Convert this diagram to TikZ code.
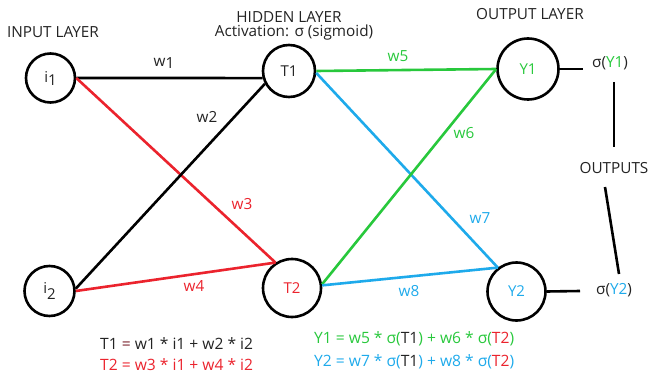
\documentclass[tikz,border=0pt]{standalone}
\usepackage{fontspec}
\setmainfont{Open Sans}
\definecolor{ngreen}{RGB}{40,200,60}
\definecolor{nred}{RGB}{235,35,45}
\definecolor{nblue}{RGB}{30,170,235}
\definecolor{ntext}{RGB}{35,35,35}
\definecolor{nmaroon}{RGB}{120,30,40}
\begin{document}
\begin{tikzpicture}[x=1pt,y=-1pt,
  neuron/.style={circle, draw=black, line width=2.6pt, inner sep=0pt, text=ntext, font=\fontsize{15}{17}\selectfont},
  conn/.style={line width=2.6pt},
  lbl/.style={inner sep=0pt, text=ntext, font=\fontsize{15.3}{17}\selectfont},
  eq/.style={inner sep=0pt, anchor=west, font=\fontsize{15.6}{17}\selectfont}]
\useasboundingbox (0,0) rectangle (650,374);
% neurons
\node[neuron, minimum size=49pt] (i1) at (50.5,78) {i\raisebox{-3pt}{1}};
\node[neuron, minimum size=50pt] (i2) at (49.5,291) {i\raisebox{-6pt}{2}};
\node[neuron, minimum size=52pt] (T1) at (289,71) {T1};
\node[neuron, minimum size=58pt, text=nred] (T2) at (292,288) {T2};
\node[neuron, minimum size=61pt, text=ngreen] (Y1) at (528,69) {Y1};
\node[neuron, minimum size=58pt, text=nblue] (Y2) at (516.5,291.5) {Y2};
% titles
\node[lbl] (tin) at (53,32) {INPUT LAYER};
\node[lbl] (thid) at (289,17) {HIDDEN LAYER};
\node[lbl] (tact) at (294,33) {Activation: σ (sigmoid)};
\node[lbl] (tout) at (530,14) {OUTPUT LAYER};
% connectors
\draw[conn] (i1.east) -- (T1.195);
\draw[conn, nred] (i1.east) -- (T2.123);
\draw[conn] (i2.5) -- (T1.208);
\draw[conn, nred] (i2.east) -- (T2.123);
\draw[conn, ngreen] (T1.east) -- (Y1.west);
\draw[conn, nblue] (T1.-4) -- (Y2.128);
\draw[conn, ngreen] (T2.7) -- (Y1.west);
\draw[conn, nblue] (T2.5) -- (Y2.128);
% weight labels
\node[lbl] (w1) at (164,63) {w\raisebox{-1.5pt}{1}};
\node[lbl] (w2) at (207,117) {w2};
\node[lbl, text=nred] (w3) at (242,204) {w3};
\node[lbl, text=nred] (w4) at (194,286) {w4};
\node[lbl, text=ngreen] (w5) at (398,56) {w5};
\node[lbl, text=ngreen] (w6) at (464,133) {w6};
\node[lbl, text=nblue] (w7) at (480,218) {w7};
\node[lbl, text=nblue] (w8) at (409,291) {w8};
% outputs
\node[lbl, anchor=west] (sY1) at (592,63) {σ(\textcolor{ngreen}{Y1})};
\node[lbl, anchor=west] (sY2) at (596,290) {σ(\textcolor{nblue}{Y2})};
\coordinate (oY1) at (583,69);
\coordinate (oY2) at (580,291);
\draw[conn] (Y1.east) -- (oY1);
\draw[conn] (Y2.east) -- (oY2);
\node[lbl] (outs) at (614,168) {OUTPUTS};
\coordinate (la) at (614,82);
\coordinate (lb) at (614,147);
\coordinate (lc) at (605,187);
\coordinate (ld) at (619,274);
\draw[conn] (la) -- (lb);
\draw[conn] (lc) -- (ld);
% equations
\node[eq, text=ntext] (e1) at (100,344) {T1 \textcolor{nmaroon}{=} w1 * i1 + w2 * i2};
\node[eq, text=nred] (e2) at (100,364.5) {T2 = w3 * i1 + w4 * i2};
\node[eq, text=ngreen] (e3) at (314,339) {Y1 = w5 * σ(\textcolor{ntext}{T1}) + w6 * σ(\textcolor{nred}{T2})};
\node[eq, text=nblue] (e4) at (314,362) {Y2 = w7 * σ(\textcolor{ntext}{T1}) + w8 * σ(\textcolor{nred}{T2})};
\end{tikzpicture}
\end{document}
